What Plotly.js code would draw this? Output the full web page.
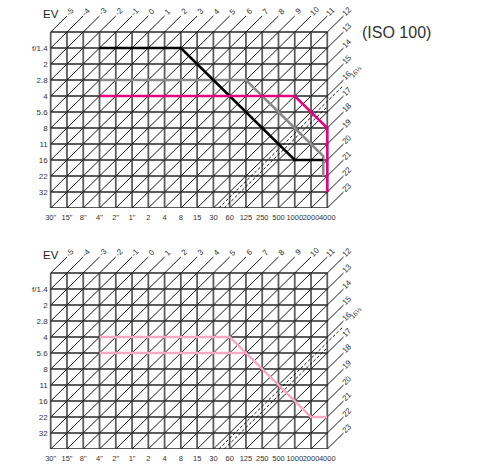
<!DOCTYPE html>
<html>
<head>
<meta charset="utf-8">
<script src="https://cdn.plot.ly/plotly-3.0.1.min.js"></script>
<style>html,body{margin:0;padding:0;background:#fff}#chart{width:483px;height:465px}</style>
</head>
<body>
<div id="chart"></div>
<script>
// ---- data ----
const shutterLabels = ['30"','15"','8"','4"','2"','1"','2','4','8','15','30','60','125','250','500','1000','2000','4000'];
const apertureLabels = ['f/1.4','2','2.8','4','5.6','8','11','16','22','32'];
const evTopLabels = ['-5','-4','-3','-2','-1','0','1','2','3','4','5','6','7','8','9','10','11','12'];
const evRightLabels = ['13','14','15','16','17','18','19','20','21','22','23'];
const dashedEV = [16.333, 16.667];
// program lines (shutter column index, aperture row index)
const blackShutter = [3, 8, 15, 16.75];
const blackAperture = [1, 1, 8, 8];
const grayShutter = [3, 12, 16.75, 16.75];
const grayAperture = [3, 3, 7.75, 9];
const magentaShutter = [3, 15, 17, 17];
const magentaAperture = [4, 4, 6, 10];
const pinkAShutter = [3, 11, 12];
const pinkAAperture = [4, 4, 5];
const pinkBShutter = [3, 12, 16, 17];
const pinkBAperture = [5, 5, 9, 9];

const nC = shutterLabels.length - 1;      // 17
const nR = apertureLabels.length + 1;     // 11
const evOffset = 5;                        // EV = c - 5 + r

function gridTraces(xa, ya) {
  const t = [];
  let gx = [], gy = [];
  for (let c = 0; c <= nC; c++) { gx.push(c, c, null); gy.push(0, nR, null); }
  for (let r = 0; r <= nR; r++) { gx.push(0, nC, null); gy.push(r, r, null); }
  t.push({x: gx, y: gy, xaxis: xa, yaxis: ya, mode: 'lines', line: {color: '#5c5c5c', width: 1.8}, hoverinfo: 'skip'});
  let dx = [], dy = [];
  for (let k = 0; k <= nC + nR; k++) {
    const r1 = Math.min(nR, k), c1 = k - r1;
    const c2 = Math.min(nC, k), r2 = k - c2;
    dx.push(c1, c2 + 1, null); dy.push(r1, r2 - 1, null);
  }
  t.push({x: dx, y: dy, xaxis: xa, yaxis: ya, mode: 'lines', line: {color: '#000', width: 0.9}, hoverinfo: 'skip'});
  dashedEV.forEach((ev, i) => {
    const k = ev + evOffset;
    const r1 = Math.min(nR, k), c1 = k - r1;
    const c2 = Math.min(nC, k), r2 = k - c2;
    const ext = i === 0 ? 1 : 0;
    t.push({x: [c1, c2 + ext], y: [r1, r2 - ext], xaxis: xa, yaxis: ya, mode: 'lines',
      line: {color: '#000', width: 0.9, dash: '3px,2px'}, hoverinfo: 'skip'});
  });
  return t;
}

function prog(xs, ys, color, w, xa, ya) {
  return {x: xs, y: ys, xaxis: xa, yaxis: ya, mode: 'lines', line: {color: color, width: w}, hoverinfo: 'skip'};
}

const data = [].concat(
  gridTraces('x', 'y'),
  gridTraces('x2', 'y2'),
  [
    prog(grayShutter, grayAperture, '#8a8a8a', 2.6, 'x', 'y'),
    prog(blackShutter, blackAperture, '#000000', 2.6, 'x', 'y'),
    prog(magentaShutter, magentaAperture, '#e4007f', 2.6, 'x', 'y'),
    prog(pinkAShutter, pinkAAperture, '#f5a9c4', 2.4, 'x2', 'y2'),
    prog(pinkBShutter, pinkBAperture, '#f5a9c4', 2.4, 'x2', 'y2')
  ]
);

const annotations = [];
function evAnn(xr, yr) {
  const f = {family: 'Arial, Liberation Sans, sans-serif', size: 8, color: '#333'};
  evTopLabels.forEach((s, c) => annotations.push({x: c + 1.2, y: -1.3, xref: xr, yref: yr, text: s, showarrow: false, textangle: -45, font: f}));
  evRightLabels.forEach((s, i) => annotations.push({x: nC + 1.2, y: (i + 1) - 1.3, xref: xr, yref: yr, text: s, showarrow: false, textangle: -45, font: f}));
  annotations.push({x: nC + 1.75, y: 2.45, xref: xr, yref: yr, text: '16⅓', showarrow: false, textangle: -45,
    font: {family: 'Arial, sans-serif', size: 6.5, color: '#333'}});
  annotations.push({x: 0, y: -1.15, xref: xr, yref: yr, text: 'EV', showarrow: false,
    font: {family: 'Arial, sans-serif', size: 11.5, color: '#222'}});
  annotations.push({x: nC + 0.72, y: nR + 0.55, xref: xr, yref: yr, text: 'sec.', showarrow: false, xanchor: 'left',
    font: {family: 'Arial, sans-serif', size: 10.5, color: '#333'}});
}
evAnn('x', 'y');
evAnn('x2', 'y2');
annotations.push({x: 432.5 / 483, y: 1 - 21.7 / 465, xref: 'paper', yref: 'paper', text: '(ISO 100)', showarrow: false,
  font: {family: 'Arial, sans-serif', size: 16, color: '#333'}});

const px0 = 50.7, cw = 16.27;
const xr = [-px0 / cw, (483 - px0) / cw];
const xTick = {family: 'Arial, Liberation Sans, sans-serif', size: 7.5, color: '#333'};
const yTick = {family: 'Arial, Liberation Sans, sans-serif', size: 8, color: '#333'};
const xTickVals = shutterLabels.map((s, i) => i);
const yTickVals = apertureLabels.map((s, i) => i + 1);

function xaxisDef(anchor) {
  return {domain: [0, 1], range: xr, anchor: anchor, tickvals: xTickVals, ticktext: shutterLabels, tickfont: xTick,
    tickangle: 0, ticklabelstandoff: 3, showgrid: false, zeroline: false, showline: false, ticks: '', fixedrange: true, color: '#333'};
}
function yaxisDef(domain, range) {
  return {domain: domain, range: range, anchor: 'free', position: px0 / 483, tickvals: yTickVals, ticktext: apertureLabels,
    tickfont: yTick, tickangle: 0, ticklabelstandoff: 3, showgrid: false, zeroline: false, showline: false, ticks: '',
    fixedrange: true, color: '#333'};
}

const layout = {
  width: 483, height: 465,
  margin: {l: 0, r: 0, t: 0, b: 0},
  paper_bgcolor: '#fff', plot_bgcolor: 'rgba(0,0,0,0)',
  showlegend: false,
  xaxis: xaxisDef('y'),
  xaxis2: xaxisDef('y2'),
  yaxis: yaxisDef([1 - 208 / 465, 1], [11, -2]),
  yaxis2: yaxisDef([1 - 449 / 465, 1 - 232 / 465], [11, (232 - 273) / 16]),
  annotations: annotations
};

Plotly.newPlot('chart', data, layout, {staticPlot: true, displayModeBar: false});
</script>
</body>
</html>
